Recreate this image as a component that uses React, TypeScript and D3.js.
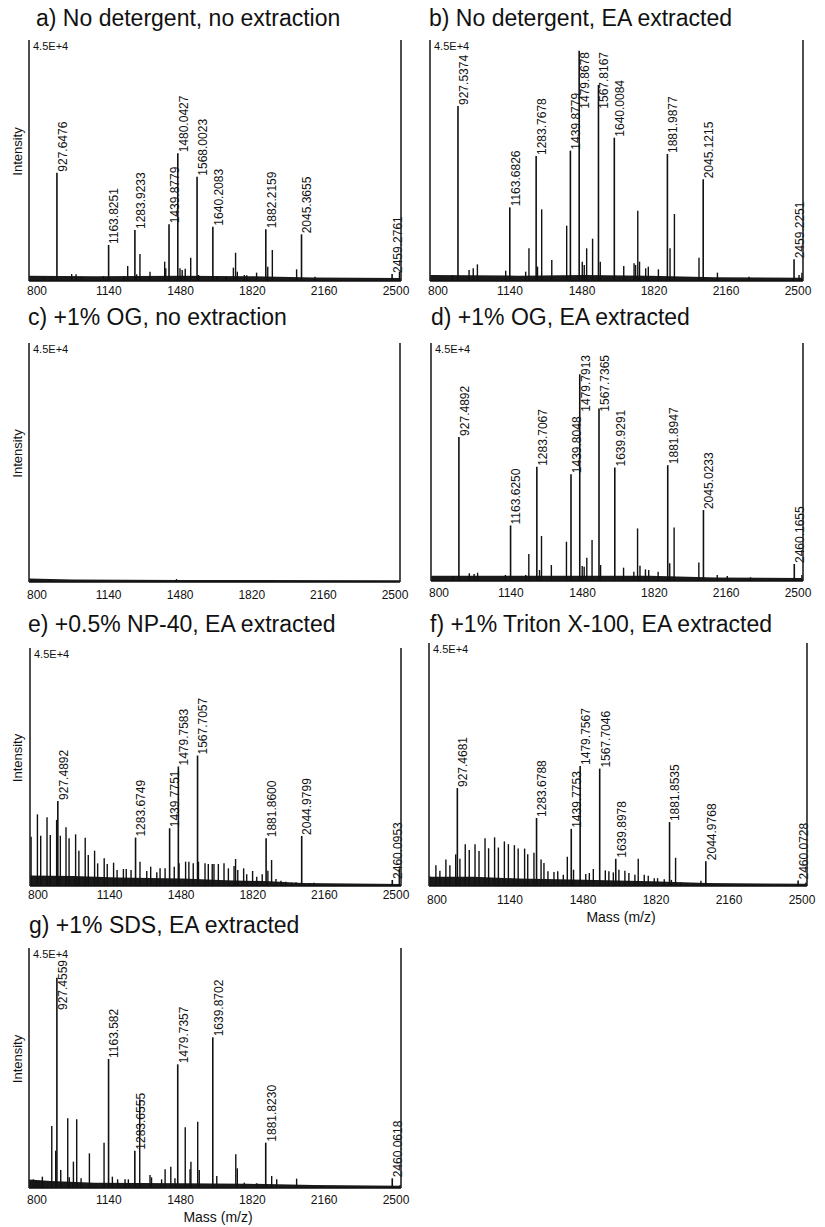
import React from 'react'
import * as d3 from 'd3'

const massTicks = [800, 1140, 1480, 1820, 2160, 2500]
const massDomain: [number, number] = [800, 2500]
const intensityMax = 45000
const topLabel = '4.5E+4'

// labelled peaks: [m/z text, intensity]; minor peaks: [m/z, intensity]; floor: noise level [m/z, intensity]
const labeledA: [string, number][] = [
  ['927.6476', 20230], ['1163.8251', 6720], ['1283.9233', 9520], ['1439.8779', 10580], ['1480.0427', 23840],
  ['1568.0023', 19480], ['1640.2083', 10150], ['1882.2159', 9650], ['2045.3655', 8710], ['2459.2761', 1310],
]
const minorA: [number, number][] = [
  [866, 800], [905, 700], [995, 1300], [1015, 1250], [1040, 800], [1140, 930], [1234, 930], [1251, 2800],
  [1292, 1250], [1307, 5040], [1353, 1740], [1420, 3610], [1425, 2400], [1490, 2370], [1500, 2050], [1514, 2300],
  [1539, 4360], [1575, 1120], [1660, 930], [1700, 800], [1734, 2490], [1744, 5290], [1752, 1740], [1784, 1120],
  [1795, 1060], [1840, 1560], [1891, 2680], [1912, 5790], [2023, 2180], [2107, 800], [2300, 300], [2493, 1740],
]
const floorA: [number, number][] = [[800, 1000], [1100, 900], [1500, 1000], [1800, 900], [2100, 650], [2500, 550]]

const labeledB: [string, number][] = [
  ['927.5374', 32680], ['1163.6826', 13750], ['1283.7678', 23340], ['1439.8779', 24340], ['1479.8678', 43010],
  ['1567.8167', 36600], ['1640.0084', 26760], ['1881.9877', 23710], ['2045.1215', 18980], ['2459.2251', 4050],
]
const minorB: [number, number][] = [
  [902, 1120], [978, 2050], [997, 2370], [1016, 3110], [1145, 1930], [1236, 1740], [1251, 6100], [1290, 2680],
  [1309, 13380], [1355, 3920], [1423, 10330], [1494, 3610], [1503, 2990], [1514, 6100], [1541, 7900], [1576, 3610],
  [1683, 2800], [1730, 3300], [1737, 3000], [1747, 13130], [1755, 3610], [1783, 2370], [1795, 2680], [1841, 2180],
  [1894, 6100], [1914, 12510], [2026, 4360], [2110, 1560], [2254, 800], [2482, 1120], [2495, 1560],
]
const floorB: [number, number][] = [[800, 1100], [1200, 1000], [1500, 1100], [1800, 1000], [2100, 700], [2500, 600]]

const labeledC: [string, number][] = []
const minorC: [number, number][] = [
  [812, 500], [830, 450], [860, 400], [890, 350], [1000, 300], [1476, 550], [1550, 300], [1900, 250],
]
const floorC: [number, number][] = [[800, 650], [900, 550], [1000, 450], [1500, 400], [2500, 350]]

const labeledD: [string, number][] = [
  ['927.4892', 27250], ['1163.6250', 10510], ['1283.7067', 21590], ['1439.8048', 20200], ['1479.7913', 39090],
  ['1567.7365', 32600], ['1639.9291', 21460], ['1881.8947', 21900], ['2045.0233', 13410], ['2460.1655', 3210],
]
const minorD: [number, number][] = [
  [900, 940], [975, 1450], [997, 1320], [1013, 1570], [1140, 1130], [1233, 1130], [1247, 5100], [1296, 2080],
  [1305, 8500], [1350, 3020], [1419, 7430], [1491, 2830], [1500, 2700], [1512, 4410], [1536, 7740], [1575, 3020],
  [1680, 2520], [1727, 1760], [1744, 9940], [1755, 2900], [1780, 2200], [1795, 2080], [1838, 1760], [1891, 3340],
  [1911, 10130], [2024, 3520], [2108, 1130], [2154, 940], [2260, 700], [2495, 1130],
]
const floorD: [number, number][] = [[800, 1000], [1500, 1000], [1800, 1000], [2100, 650], [2500, 550]]

const labeledE: [string, number][] = [
  ['927.4892', 16090], ['1283.6749', 9150], ['1439.7751', 10920], ['1479.7583', 22590], ['1567.7057', 24670],
  ['1881.8600', 9020], ['2044.9799', 9470], ['2460.0953', 1140],
]
const minorE: [number, number][] = [
  [805, 9320], [834, 13550], [849, 9510], [878, 12980], [893, 9640], [922, 12500], [939, 9510], [965, 11090],
  [979, 9010], [1009, 9770], [1024, 6680], [1053, 9140], [1067, 5860], [1096, 6680], [1110, 4280], [1140, 5230],
  [1154, 4160], [1183, 4410], [1199, 3020], [1228, 3210], [1241, 3210], [1263, 3020], [1304, 4600], [1335, 2840],
  [1353, 3650], [1381, 2580], [1396, 3340], [1419, 3340], [1461, 3650], [1483, 4300], [1513, 4600], [1528, 4600],
  [1548, 4280], [1572, 4600], [1602, 4280], [1617, 4160], [1635, 4160], [1643, 4160], [1663, 4160], [1689, 4280],
  [1709, 3340], [1735, 3780], [1742, 5100], [1752, 3020], [1779, 3340], [1793, 2200], [1820, 2840], [1839, 1760],
  [1864, 2200], [1890, 2900], [1907, 4910], [1927, 1320], [1950, 1010], [1972, 820], [1999, 630], [2019, 700],
  [2083, 500], [2101, 630], [2492, 3150],
]
const floorE: [number, number][] = [
  [800, 2000], [1000, 1900], [1200, 1600], [1500, 1400], [1700, 1100], [1900, 900], [2050, 550], [2500, 400],
]

const labeledF: [string, number][] = [
  ['927.4681', 18140], ['1283.6788', 12600], ['1439.7753', 10580], ['1479.7567', 22240], ['1567.7046', 21740],
  ['1639.8978', 5040], ['1881.8535', 11840], ['2044.9768', 4600], ['2460.0728', 1010],
]
const minorF: [number, number][] = [
  [804, 1760], [831, 3840], [849, 2840], [876, 4910], [894, 3840], [920, 5860], [939, 5040], [963, 7750],
  [981, 6680], [1007, 7750], [1025, 6490], [1052, 8820], [1068, 6990], [1095, 9010], [1112, 7120], [1139, 8250],
  [1157, 7750], [1184, 7560], [1201, 6930], [1230, 6930], [1244, 5860], [1272, 6170], [1304, 4910], [1317, 4280],
  [1335, 2710], [1362, 2580], [1379, 2710], [1404, 2080], [1422, 5420], [1450, 3020], [1505, 2200], [1521, 2390],
  [1539, 3150], [1593, 2900], [1609, 2710], [1629, 2520], [1654, 3020], [1681, 2840], [1699, 2390], [1726, 2080],
  [1741, 5040], [1768, 2080], [1786, 1890], [1813, 1450], [1828, 1450], [1858, 1260], [1890, 1130], [1909, 5230],
  [1933, 630], [1959, 500], [1993, 500], [2023, 950], [2086, 320], [2495, 630],
]
const floorF: [number, number][] = [[800, 1700], [1000, 1700], [1200, 1400], [1500, 1150], [1800, 900], [2050, 550], [2500, 400]]

const labeledG: [string, number][] = [
  ['927.4559', 39440], ['1163.582', 24190], ['1283.6555', 7000], ['1479.7357', 23190], ['1639.8702', 28250],
  ['1881.8230', 8500], ['2460.0618', 1810],
]
const minorG: [number, number][] = [
  [805, 1500], [820, 1630], [832, 1500], [846, 1380], [861, 2130], [904, 11630], [922, 7000], [945, 3380],
  [977, 13060], [984, 2000], [1003, 4940], [1018, 12880], [1038, 1810], [1076, 6500], [1143, 8500], [1181, 2130],
  [1205, 1630], [1239, 1630], [1254, 1630], [1306, 16630], [1353, 2440], [1360, 2000], [1406, 1630], [1422, 3500],
  [1448, 4000], [1467, 1810], [1514, 11380], [1536, 3500], [1540, 4940], [1571, 12440], [1578, 3380], [1658, 2250],
  [1745, 6310], [1752, 3690], [1784, 1000], [1841, 870], [1909, 2250], [1932, 1620], [2023, 1750], [2138, 400],
  [2496, 560],
]
const floorG: [number, number][] = [[800, 1600], [900, 1300], [1100, 1000], [1500, 900], [1800, 800], [2100, 550], [2500, 400]]

const font = 'Liberation Sans, Arial, Helvetica, sans-serif'
const ink = '#111'

const panels = [
  { title: 'a) No detergent, no extraction', labeled: labeledA, minor: minorA, floor: floorA,
    left: 29, right: 401, top: 40, bottom: 281, titleX: 36, titleY: 26, tickY: 295, yTitle: true, xTitle: false },
  { title: 'b) No detergent, EA extracted', labeled: labeledB, minor: minorB, floor: floorB,
    left: 430, right: 803, top: 40, bottom: 281, titleX: 429, titleY: 26, tickY: 295, yTitle: false, xTitle: false },
  { title: 'c) +1% OG, no extraction', labeled: labeledC, minor: minorC, floor: floorC,
    left: 29, right: 400, top: 343, bottom: 582, titleX: 28, titleY: 325, tickY: 599, yTitle: true, xTitle: false },
  { title: 'd) +1% OG, EA extracted', labeled: labeledD, minor: minorD, floor: floorD,
    left: 431, right: 803, top: 343, bottom: 581, titleX: 431, titleY: 325, tickY: 597, yTitle: false, xTitle: false },
  { title: 'e) +0.5% NP-40, EA extracted', labeled: labeledE, minor: minorE, floor: floorE,
    left: 30, right: 401, top: 648, bottom: 886, titleX: 28, titleY: 632, tickY: 899, yTitle: true, xTitle: false },
  { title: 'f) +1% Triton X-100, EA extracted', labeled: labeledF, minor: minorF, floor: floorF,
    left: 429, right: 807, top: 643, bottom: 886, titleX: 430, titleY: 632, tickY: 904, yTitle: false, xTitle: true },
  { title: 'g) +1% SDS, EA extracted', labeled: labeledG, minor: minorG, floor: floorG,
    left: 29, right: 401, top: 948, bottom: 1188, titleX: 29, titleY: 933, tickY: 1204, yTitle: true, xTitle: true },
]

const labelSize = 12
const labelLength = (s: string) =>
  [...s].reduce((acc, c) => acc + (c === '.' ? 0.278 : 0.556), 0) * labelSize

function Spectrum({ p }: { p: typeof panels[number] }) {
  const x = d3.scaleLinear().domain(massDomain).range([p.left, p.right])
  const y = d3.scaleLinear().domain([0, intensityMax]).range([p.bottom, p.top])
  // tick text sits a little inside the frame in the original
  const xText = d3.scaleLinear().domain(massDomain).range([p.left + 8, p.right - 5])
  const floorArea = d3.area<[number, number]>()
    .x(d => x(d[0]))
    .y0(p.bottom)
    .y1(d => y(d[1]))

  return (
    <g>
      <text x={p.titleX} y={p.titleY} fontSize={23} fill={ink}>{p.title}</text>
      <path d={floorArea(p.floor) || ''} fill="#1a1a1a" />
      <line x1={p.left} x2={p.right} y1={p.bottom} y2={p.bottom} stroke={ink} strokeWidth={1.5} />
      {p.minor.map((d, i) => (
        <line key={'m' + i} x1={x(d[0])} x2={x(d[0])} y1={p.bottom} y2={y(d[1])} stroke={ink} strokeWidth={1.4} />
      ))}
      {p.labeled.map((d, i) => {
        const px = x(parseFloat(d[0]))
        const py = y(d[1])
        const len = labelLength(d[0])
        let yb = py - 1
        if (yb - len < p.top + 12) yb = p.top + 12 + len
        return (
          <g key={'l' + i}>
            <line x1={px} x2={px} y1={p.bottom} y2={py} stroke={ink} strokeWidth={1.6} />
            <text transform={`translate(${px + 9.8},${yb}) rotate(-90)`} fontSize={labelSize} fill={ink}>{d[0]}</text>
          </g>
        )
      })}
      <line x1={p.left} x2={p.left} y1={p.top} y2={p.bottom} stroke="#222" strokeWidth={1.6} />
      <line x1={p.right} x2={p.right} y1={p.top} y2={p.bottom} stroke="#222" strokeWidth={1.6} />
      <text x={p.left + 4} y={p.top + 10} fontSize={11} fill={ink}>{topLabel}</text>
      {massTicks.map(t => (
        <text key={t} x={xText(t)} y={p.tickY} fontSize={12} textAnchor="middle" fill={ink}>{t}</text>
      ))}
      {p.yTitle && (
        <text transform={`translate(22,${(p.top + p.bottom) / 2 - 9}) rotate(-90)`} fontSize={13}
          textAnchor="middle" fill={ink}>Intensity</text>
      )}
      {p.xTitle && (
        <text x={(p.left + p.right) / 2 + 3} y={p.tickY + 18} fontSize={14} textAnchor="middle" fill={ink}>Mass (m/z)</text>
      )}
    </g>
  )
}

export default function App() {
  return (
    <svg width={825} height={1227} style={{ position: 'absolute', left: 0, top: 0, background: '#fff' }}
      fontFamily={font}>
      <rect width={825} height={1227} fill="#fff" />
      {panels.map(p => <Spectrum key={p.title} p={p} />)}
    </svg>
  )
}
